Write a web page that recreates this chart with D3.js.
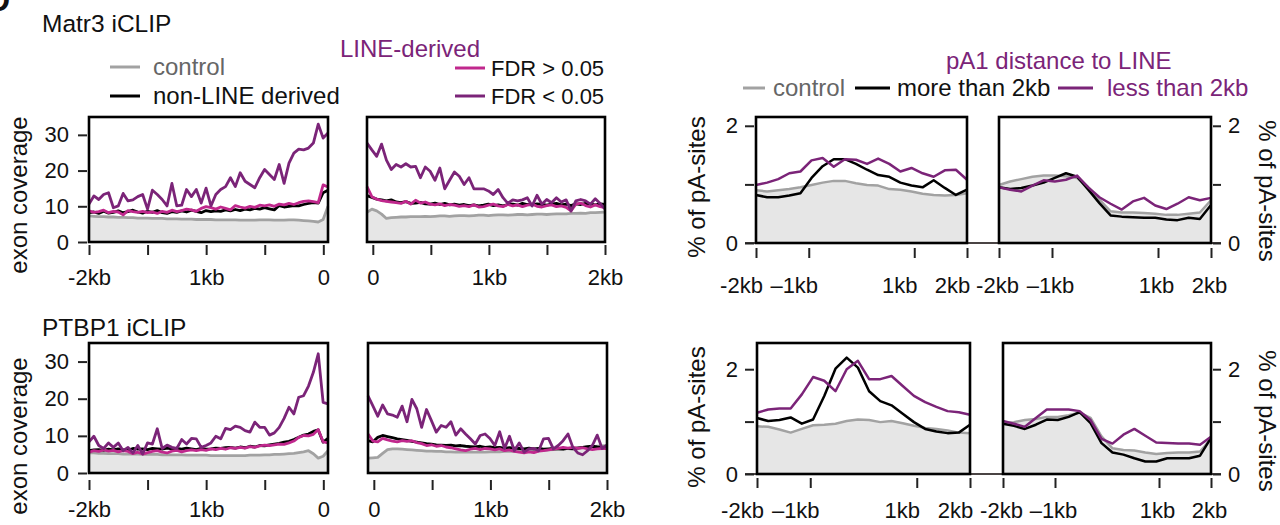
<!DOCTYPE html>
<html>
<head>
<meta charset="utf-8">
<script src="https://cdn.jsdelivr.net/npm/d3@7"></script>
<style>
  body { margin: 0; background: #fff; }
  svg text { font-family: "Liberation Sans", Arial, Helvetica, sans-serif; }
</style>
</head>
<body>
<svg id="fig" width="1280" height="525"></svg>
<script>
// ---- exon coverage (iCLIP), 50 bins per window ----
// Matr3, upstream of the exon (-2kb .. 0)
const matr3UpControl = [7.3,7.2,7.1,7.1,7.0,7.0,6.9,6.9,6.8,6.8,6.7,6.7,6.7,6.6,6.6,6.6,6.5,6.5,6.5,6.4,6.4,6.4,6.3,6.3,6.3,6.3,6.2,6.2,6.2,6.2,6.2,6.1,6.1,6.1,6.1,6.2,6.2,6.2,6.1,6.1,6.1,6.2,6.2,6.1,6.0,5.9,5.8,5.6,6.3,10.0];
const matr3UpNonLine = [8.2,8.4,8.0,8.6,8.1,8.3,8.7,8.2,8.5,8.9,8.4,8.1,8.6,8.3,8.8,8.2,8.0,8.5,8.3,8.7,8.4,8.9,8.6,8.2,8.8,8.5,8.7,8.6,9.0,8.7,9.1,8.8,9.2,9.0,9.4,9.2,9.6,9.3,9.0,10.2,9.8,10.0,10.2,10.1,10.5,10.8,11.0,10.9,13.8,14.5];
const matr3UpFdrHigh = [8.7,8.3,8.5,8.9,8.2,8.6,8.4,7.6,8.8,8.5,8.3,8.6,8.2,8.4,8.0,8.6,8.3,8.9,8.5,8.8,9.2,9.0,8.6,9.4,9.9,9.6,9.2,9.8,9.4,9.0,10.2,9.8,9.5,10.0,9.7,10.3,10.1,10.4,10.0,10.6,10.4,10.8,10.5,11.0,11.4,11.5,11.3,11.0,16.0,15.4];
const matr3UpFdrLow = [10.6,12.9,11.9,13.3,13.8,9.6,10.1,13.6,11.5,11.8,12.7,13.3,9.2,14.5,13.3,11.9,10.1,16.4,10.1,10.3,14.7,12.7,14.7,10.9,15.1,10.1,13.3,14.7,15.5,18.0,15.5,19.4,17.0,16.1,15.2,18.0,20.3,18.9,17.5,21.7,16.4,22.1,24.9,26.0,25.8,26.3,27.7,33.0,29.1,30.5];
// Matr3, downstream of the exon (0 .. 2kb)
const matr3DownControl = [8.3,9.2,8.7,7.8,6.6,6.8,6.9,7.0,7.0,7.1,7.1,7.1,7.2,7.1,7.2,7.3,7.3,7.2,7.3,7.4,7.4,7.3,7.4,7.5,7.5,7.4,7.5,7.6,7.6,7.5,7.6,7.7,7.7,7.6,7.7,7.8,7.8,7.7,7.8,7.9,7.9,7.9,8.0,8.0,8.1,8.0,8.2,8.2,8.3,8.4];
const matr3DownNonLine = [13.0,12.5,12.0,11.8,11.5,11.8,11.2,11.0,11.3,10.8,10.9,11.1,10.7,10.6,10.9,10.5,10.8,10.4,10.6,10.3,10.5,10.2,10.4,10.1,10.3,10.6,10.2,10.4,10.1,10.5,10.6,10.3,10.8,10.5,10.4,10.7,10.5,10.3,10.6,10.8,10.4,10.6,10.2,10.7,10.5,10.8,10.6,10.4,10.7,10.5];
const matr3DownFdrHigh = [15.5,12.7,12.0,11.6,11.4,11.2,11.0,10.8,11.4,10.6,11.7,10.9,11.2,10.6,10.4,10.7,10.2,10.5,10.3,10.0,10.2,9.9,10.4,9.8,9.9,10.3,10.6,10.1,9.9,10.5,10.1,10.4,9.9,10.3,10.6,10.0,9.8,10.2,10.4,9.9,10.1,9.7,8.7,10.6,10.9,10.2,9.8,10.4,9.9,9.6];
const matr3DownFdrLow = [27.7,25.8,24.0,27.4,22.9,20.3,21.7,21.0,21.9,21.0,21.2,18.0,21.0,19.8,17.3,20.7,14.9,17.3,19.6,18.4,16.1,18.0,14.9,14.9,14.9,14.3,13.3,14.7,12.4,10.8,11.8,11.5,11.8,12.4,10.1,13.1,10.6,11.9,11.0,12.4,11.2,11.8,8.7,11.5,11.9,11.5,10.6,12.1,10.8,9.2];
// PTBP1, upstream
const ptbp1UpControl = [5.4,5.4,5.3,5.3,5.2,5.2,5.2,5.1,5.1,5.1,5.1,5.0,5.0,5.0,5.0,4.9,4.9,4.9,4.9,4.9,4.8,4.8,4.8,4.8,4.8,4.7,4.7,4.7,4.7,4.7,4.7,4.7,4.7,4.8,4.8,4.8,4.9,4.9,5.0,5.0,5.1,5.2,5.3,5.5,5.7,6.0,5.2,4.0,4.5,6.0];
const ptbp1UpNonLine = [6.0,6.2,6.3,6.1,6.4,6.2,6.5,6.3,6.2,6.6,6.4,6.5,6.3,6.6,6.5,6.4,6.7,6.5,6.6,6.4,6.7,6.5,6.3,6.6,6.4,6.5,6.7,6.6,6.8,6.9,6.7,7.0,6.8,7.2,7.0,7.4,7.3,7.6,7.8,8.0,8.3,8.5,9.0,9.6,10.2,10.5,11.2,11.6,8.3,9.3];
const ptbp1UpFdrHigh = [5.6,6.0,5.8,6.2,5.9,6.1,5.7,6.0,5.8,5.2,5.6,5.1,5.5,5.8,6.0,5.6,5.4,5.9,6.1,5.7,6.0,6.2,6.0,6.3,6.1,6.5,6.3,6.6,6.4,6.8,6.6,6.9,6.7,7.1,6.9,7.3,7.5,7.4,7.6,7.8,7.7,8.1,8.6,9.6,10.1,10.0,10.4,11.7,8.4,8.1];
const ptbp1UpFdrLow = [8.4,9.9,7.4,6.6,8.1,6.9,8.1,6.0,6.9,5.4,7.4,5.1,8.1,7.8,11.9,6.6,7.5,6.9,6.6,9.0,7.8,9.3,9.2,6.9,7.4,8.1,9.9,9.2,12.0,11.7,12.6,12.3,11.4,11.0,13.7,12.3,12.3,10.2,10.8,12.3,14.7,17.7,15.9,20.4,20.8,23.4,27.1,32.1,19.0,18.6];
// PTBP1, downstream
const ptbp1DownControl = [4.0,4.1,4.2,5.3,6.3,6.5,6.5,6.4,6.3,6.2,6.1,6.0,5.9,5.9,5.8,5.8,5.7,5.7,5.6,5.6,5.6,5.6,5.6,5.6,5.6,5.7,5.7,5.7,5.8,5.8,5.8,5.9,5.9,5.9,6.0,6.0,6.1,6.2,6.3,6.4,6.5,6.6,6.7,6.8,6.9,7.0,7.1,7.2,7.3,7.4];
const ptbp1DownNonLine = [8.7,8.4,9.6,10.1,9.8,9.5,9.2,9.0,8.8,8.5,8.3,8.1,7.9,7.8,7.6,7.5,7.4,7.5,7.3,7.4,7.2,7.1,7.0,7.2,6.9,7.0,6.8,6.9,6.6,6.8,6.7,6.6,6.5,6.7,6.5,6.6,6.4,6.5,6.6,6.5,6.4,6.6,6.5,6.7,6.9,7.1,7.2,7.0,6.9,7.0];
const ptbp1DownFdrHigh = [10.5,8.6,8.4,9.3,8.9,8.6,8.4,8.7,8.5,8.7,8.2,7.9,7.4,7.6,7.2,7.4,7.0,6.8,6.5,6.2,6.0,6.4,6.6,6.3,6.6,6.5,6.2,6.5,6.0,6.2,5.8,5.6,5.4,5.7,5.5,5.9,6.0,6.2,6.4,6.6,6.9,6.7,6.9,6.6,6.8,6.5,6.3,6.5,6.6,6.6];
const ptbp1DownFdrLow = [20.8,18.1,15.3,18.3,15.9,15.6,15.0,18.0,13.8,19.8,17.3,12.3,17.1,14.1,11.0,12.8,12.3,13.8,10.2,11.9,10.5,9.2,7.8,10.1,10.5,9.3,7.4,11.1,6.6,9.9,6.0,8.1,5.6,6.5,6.6,6.0,9.2,9.3,6.5,7.4,8.7,10.5,6.9,5.4,4.9,6.0,7.4,10.2,6.6,7.5];

// ---- % of pA-sites, 20 bins over -2kb .. 2kb ----
const matr3PasAControl = [0.90,0.88,0.90,0.92,0.95,0.99,1.03,1.06,1.06,1.02,0.99,0.98,0.92,0.91,0.88,0.84,0.82,0.81,0.82,0.85];
const matr3PasAFar = [0.82,0.78,0.78,0.81,0.85,1.11,1.31,1.43,1.43,1.35,1.25,1.16,1.13,1.03,0.98,0.95,1.07,0.94,0.82,0.91];
const matr3PasANear = [0.99,1.03,1.09,1.19,1.22,1.41,1.45,1.30,1.43,1.42,1.35,1.44,1.35,1.22,1.28,1.19,1.13,1.24,1.25,1.08];
const matr3PasBControl = [0.99,1.05,1.09,1.13,1.15,1.15,1.14,1.11,0.95,0.74,0.54,0.52,0.52,0.51,0.50,0.48,0.48,0.50,0.52,0.73];
const matr3PasBFar = [0.95,0.92,0.94,0.98,1.03,1.11,1.19,1.13,0.91,0.68,0.47,0.45,0.44,0.43,0.43,0.40,0.39,0.43,0.41,0.65];
const matr3PasBNear = [0.95,0.91,0.88,0.98,1.07,1.05,1.08,1.15,0.95,0.78,0.67,0.57,0.71,0.77,0.64,0.58,0.67,0.78,0.73,0.77];
const ptbp1PasAControl = [0.91,0.90,0.85,0.79,0.86,0.93,0.94,0.96,1.01,1.04,1.03,0.99,1.01,0.97,0.92,0.88,0.86,0.83,0.79,0.78];
const ptbp1PasAFar = [1.07,1.01,1.03,1.08,0.96,1.04,1.49,2.01,2.22,2.03,1.58,1.39,1.31,1.15,0.99,0.86,0.81,0.78,0.79,0.94];
const ptbp1PasANear = [1.17,1.23,1.25,1.25,1.52,1.85,1.78,1.58,2.00,2.16,1.81,1.81,1.87,1.68,1.49,1.37,1.28,1.20,1.18,1.13];
const ptbp1PasBControl = [0.97,0.99,1.03,1.05,1.09,1.09,1.12,1.17,1.07,0.72,0.49,0.46,0.45,0.41,0.38,0.40,0.41,0.41,0.43,0.67];
const ptbp1PasBFar = [0.96,0.92,0.86,0.94,1.04,1.03,1.09,1.18,0.97,0.59,0.41,0.37,0.30,0.24,0.24,0.30,0.30,0.30,0.35,0.69];
const ptbp1PasBNear = [1.01,0.96,0.90,1.07,1.23,1.23,1.23,1.20,1.03,0.67,0.58,0.75,0.86,0.73,0.60,0.59,0.58,0.58,0.56,0.71];

// tick labels
const upTicks = [-2000, -1500, -1000, -500, 0];
const upLabels = {"-2000": "-2kb", "-1000": "1kb", "0": "0"};
const downTicks = [0, 500, 1000, 1500, 2000];
const downLabels = {"0": "0", "1000": "1kb", "2000": "2kb"};
const pasTicks = [-2000, -1000, 1000, 2000];
const pasLabels = {"-2000": "-2kb", "-1000": "\u20131kb", "1000": "1kb", "2000": "2kb"};

const purple = "#7b2478", pink = "#c0288d", grey = "#a2a2a2", fillGrey = "#e6e6e6";
const tickFont = 22;
const labelFont = 24;

const svg = d3.select("#fig");

// bins are spread evenly over the window
function binned(vals, domain) {
  const step = (domain[1] - domain[0]) / (vals.length - 1);
  return vals.map((v, i) => [domain[0] + i * step, v]);
}

function styleAxis(g, size) {
  g.select(".domain").remove();
  g.selectAll(".tick line").attr("stroke", "#222").attr("stroke-width", 2);
  g.selectAll("text").attr("font-size", size).attr("fill", "#111")
    .attr("font-family", "'Liberation Sans', Arial, sans-serif");
}

function coveragePanel(p) {
  const x = d3.scaleLinear().domain(p.window).range([p.left, p.right]);
  const y = d3.scaleLinear().domain([0, 35]).range([p.bottom, p.top]);
  const g = svg.append("g");
  const line = d3.line().x(d => x(d[0])).y(d => y(d[1]));

  g.append("path").datum(binned(p.control, p.window))
    .attr("fill", fillGrey)
    .attr("d", d3.area().x(d => x(d[0])).y0(y(0)).y1(d => y(d[1])));

  [[p.control, grey], [p.nonLine, "#000"], [p.fdrHigh, pink], [p.fdrLow, purple]].forEach(([vals, col]) => {
    g.append("path").datum(binned(vals, p.window))
      .attr("fill", "none").attr("stroke", col).attr("stroke-width", 2.8)
      .attr("stroke-linejoin", "round").attr("d", line);
  });

  g.append("rect")
    .attr("x", p.left).attr("y", p.top)
    .attr("width", p.right - p.left).attr("height", p.bottom - p.top)
    .attr("fill", "none").attr("stroke", "#000").attr("stroke-width", 2.6);

  const axisY = p.bottom + p.tickGap;
  g.append("g").attr("transform", `translate(0,${axisY})`)
    .call(d3.axisBottom(x).tickValues(p.ticks).tickSize(10)
      .tickPadding(p.labelY - 8 - axisY - 10)
      .tickFormat(d => p.labels[d] || ""))
    .call(s => styleAxis(s, tickFont));

  if (p.yAxis) {
    g.append("g").attr("transform", "translate(87,0)")
      .call(d3.axisLeft(y).tickValues([0, 10, 20, 30]).tickSize(9).tickPadding(9))
      .call(s => styleAxis(s, tickFont));
  }
}

function pasPanel(p) {
  const x = d3.scaleLinear().domain([-2000, 2000]).range([p.left, p.right]);
  const g = svg.append("g");
  const y = p.y;
  const line = d3.line().x(d => x(d[0])).y(d => y(d[1]));

  g.append("path").datum(binned(p.control, [-2000, 2000]))
    .attr("fill", fillGrey)
    .attr("d", d3.area().x(d => x(d[0])).y0(y(0)).y1(d => y(d[1])));

  [[p.control, grey], [p.far, "#000"], [p.near, purple]].forEach(([vals, col]) => {
    g.append("path").datum(binned(vals, [-2000, 2000]))
      .attr("fill", "none").attr("stroke", col).attr("stroke-width", 2.5)
      .attr("stroke-linejoin", "round").attr("d", line);
  });

  g.append("rect")
    .attr("x", p.left).attr("y", p.top)
    .attr("width", p.right - p.left).attr("height", y(0) - p.top)
    .attr("fill", "none").attr("stroke", "#000").attr("stroke-width", 2.6);

  const axisY = y(0) + p.tickGap;
  g.append("g").attr("transform", `translate(0,${axisY})`)
    .call(d3.axisBottom(x).tickValues(pasTicks).tickSize(10)
      .tickPadding(p.labelY - 8 - axisY - 10)
      .tickFormat(d => pasLabels[d]))
    .call(s => styleAxis(s, tickFont))
    .call(s => s.selectAll("text").attr("x", p.labelShift));
}

function pasRow(r) {
  const y = d3.scaleLinear().domain([0, r.yMax]).range([r.bottom, r.top]);
  // shared base line under both panels
  svg.append("line").attr("x1", 745).attr("x2", 1221)
    .attr("y1", y(0)).attr("y2", y(0))
    .attr("stroke", "#4a4444").attr("stroke-width", 2.2);

  pasPanel({left: r.leftA[0], right: r.leftA[1], top: r.top, y, tickGap: r.tickGap, labelY: r.labelY,
    labelShift: -15, control: r.a[0], far: r.a[1], near: r.a[2]});
  pasPanel({left: r.leftB[0], right: r.leftB[1], top: r.top, y, tickGap: r.tickGap, labelY: r.labelY,
    labelShift: -2, control: r.b[0], far: r.b[1], near: r.b[2]});

  const fmt = d => (d === 1 ? "" : d);
  svg.append("g").attr("transform", "translate(754,0)")
    .call(d3.axisLeft(y).tickValues([0, 1, 2]).tickSize(9).tickPadding(7).tickFormat(fmt))
    .call(s => styleAxis(s, tickFont));
  svg.append("g").attr("transform", "translate(1213,0)")
    .call(d3.axisRight(y).tickValues([0, 1, 2]).tickSize(8).tickPadding(7).tickFormat(fmt))
    .call(s => styleAxis(s, tickFont));

  svg.append("text").attr("transform", `translate(697,${r.titleY}) rotate(-90)`)
    .attr("text-anchor", "middle").attr("dy", "0.35em").attr("font-size", labelFont).attr("fill", "#111")
    .text("% of pA-sites");
  svg.append("text").attr("transform", `translate(1267,${r.titleY + 4}) rotate(90)`)
    .attr("text-anchor", "middle").attr("dy", "0.35em").attr("font-size", labelFont).attr("fill", "#111")
    .text("% of pA-sites");
}

// ---- left: exon coverage ----
const rows = [
  {name: "Matr3 iCLIP", nameY: 23, top: 117, bottom: 242, tickGap: 3, labelY: 277, titleY: 195,
   up: [matr3UpControl, matr3UpNonLine, matr3UpFdrHigh, matr3UpFdrLow],
   down: [matr3DownControl, matr3DownNonLine, matr3DownFdrHigh, matr3DownFdrLow], downBox: [367, 605]},
  {name: "PTBP1 iCLIP", nameY: 327, top: 343, bottom: 473, tickGap: 7, labelY: 509, titleY: 436,
   up: [ptbp1UpControl, ptbp1UpNonLine, ptbp1UpFdrHigh, ptbp1UpFdrLow],
   down: [ptbp1DownControl, ptbp1DownNonLine, ptbp1DownFdrHigh, ptbp1DownFdrLow], downBox: [368, 607]}
];

rows.forEach(r => {
  coveragePanel({left: 89, right: 328, top: r.top, bottom: r.bottom, window: [-2000, 40],
    ticks: upTicks, labels: upLabels, tickGap: r.tickGap, labelY: r.labelY, yAxis: true,
    control: r.up[0], nonLine: r.up[1], fdrHigh: r.up[2], fdrLow: r.up[3]});
  coveragePanel({left: r.downBox[0], right: r.downBox[1], top: r.top, bottom: r.bottom, window: [-50, 2000],
    ticks: downTicks, labels: downLabels, tickGap: r.tickGap, labelY: r.labelY, yAxis: false,
    control: r.down[0], nonLine: r.down[1], fdrHigh: r.down[2], fdrLow: r.down[3]});

  svg.append("text").attr("x", 42).attr("y", r.nameY).attr("dy", "0.35em")
    .attr("font-size", 24.5).attr("fill", "#111").text(r.name);
  svg.append("text").attr("transform", `translate(19,${r.titleY}) rotate(-90)`)
    .attr("text-anchor", "middle").attr("dy", "0.35em").attr("font-size", labelFont).attr("fill", "#111")
    .text("exon coverage");
});

// ---- right: pA-site distribution ----
pasRow({yMax: 2.15, top: 117, bottom: 243, tickGap: 5, labelY: 285, titleY: 187,
  leftA: [756, 967], leftB: [999, 1211],
  a: [matr3PasAControl, matr3PasAFar, matr3PasANear], b: [matr3PasBControl, matr3PasBFar, matr3PasBNear]});
pasRow({yMax: 2.5, top: 343, bottom: 474, tickGap: 4, labelY: 510, titleY: 417,
  leftA: [757, 970], leftB: [1003, 1211],
  a: [ptbp1PasAControl, ptbp1PasAFar, ptbp1PasANear], b: [ptbp1PasBControl, ptbp1PasBFar, ptbp1PasBNear]});

// ---- legends ----
function legendItem(x1, x2, y, col, label, tx, txtCol, size) {
  svg.append("line").attr("x1", x1).attr("x2", x2).attr("y1", y).attr("y2", y)
    .attr("stroke", col).attr("stroke-width", 3);
  svg.append("text").attr("x", tx).attr("y", y).attr("dy", "0.35em")
    .attr("font-size", size).attr("fill", txtCol).text(label);
}

svg.append("text").attr("x", 340).attr("y", 49).attr("dy", "0.35em")
  .attr("font-size", labelFont).attr("fill", purple).text("LINE-derived");
legendItem(110, 140, 67, grey, "control", 153, "#666", labelFont);
legendItem(110, 140, 96, "#000", "non-LINE derived", 153, "#111", labelFont);
legendItem(455, 485, 68, pink, "FDR > 0.05", 491, "#111", 22);
legendItem(455, 485, 96, purple, "FDR < 0.05", 491, "#111", 22);

svg.append("text").attr("x", 946).attr("y", 61).attr("dy", "0.35em")
  .attr("font-size", labelFont).attr("fill", purple).text("pA1 distance to LINE");
legendItem(743, 765, 88, grey, "control", 773, "#666", labelFont);
legendItem(855, 890, 88, "#000", "more than 2kb", 897, "#111", labelFont);
legendItem(1058, 1093, 88, purple, "less than 2kb", 1107, purple, labelFont);

// cut-off panel letter in the corner
svg.append("text").attr("x", -13).attr("y", 11).attr("font-size", 32)
  .attr("font-weight", "bold").attr("fill", "#111").text("D");
</script>
</body>
</html>
